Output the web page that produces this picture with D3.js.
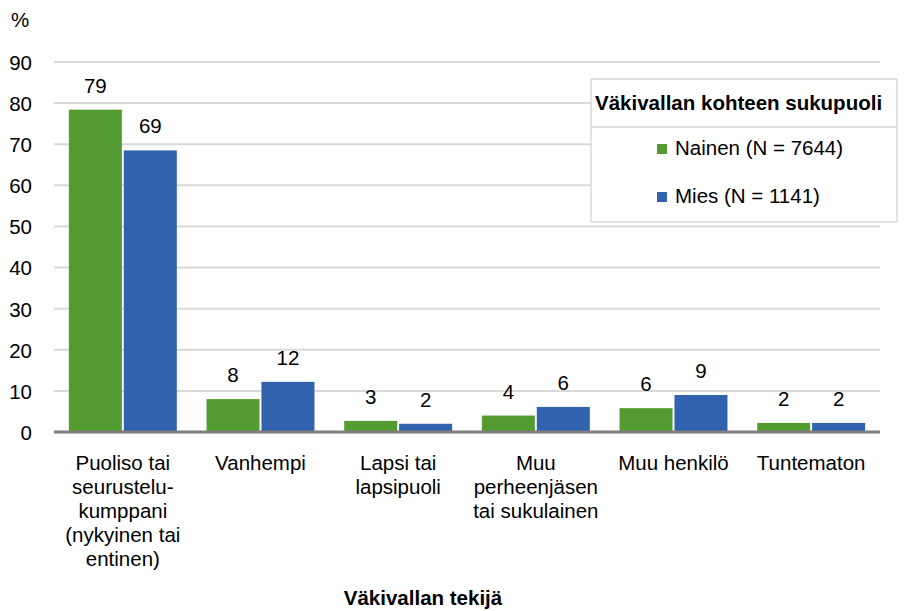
<!DOCTYPE html>
<html>
<head>
<meta charset="utf-8">
<script src="https://cdn.jsdelivr.net/npm/d3@7"></script>
<style>
  body { margin: 0; background: #fff; }
  text { font-family: "Liberation Sans", Arial, sans-serif; fill: #000; }
</style>
</head>
<body>
<div id="chart"></div>
<script>
const categories = [
  ['Puoliso tai', 'seurustelu-', 'kumppani', '(nykyinen tai', 'entinen)'],
  ['Vanhempi'],
  ['Lapsi tai', 'lapsipuoli'],
  ['Muu', 'perheenjäsen', 'tai sukulainen'],
  ['Muu henkilö'],
  ['Tuntematon']
];
const seriesNames = ['Nainen (N = 7644)', 'Mies (N = 1141)'];
const nainenValues = [78.4, 8.0, 2.7, 4.0, 5.8, 2.2];
const miesValues = [68.5, 12.2, 2.0, 6.1, 9.0, 2.2];
const nainenLabels = [79, 8, 3, 4, 6, 2];
const miesLabels = [69, 12, 2, 6, 9, 2];
const yTicks = [0, 10, 20, 30, 40, 50, 60, 70, 80, 90];

const colors = ['#549b31', '#3062ae'];
const W = 907, H = 611;
const margin = {top: 62, right: 27, bottom: 179, left: 54};
const width = W - margin.left - margin.right, height = H - margin.top - margin.bottom;
const fs = '20.5px';

const svg = d3.select('#chart').append('svg')
  .attr('width', W).attr('height', H);
const g = svg.append('g').attr('transform', `translate(${margin.left},${margin.top})`);

const x = d3.scaleBand().domain(d3.range(categories.length)).range([0, width])
  .paddingInner(0.216).paddingOuter(0.108);
const xs = d3.scaleBand().domain([0, 1]).range([0, x.bandwidth()]).paddingInner(0.035);
const y = d3.scaleLinear().domain([0, 90]).range([height, 0]);

// grid
g.selectAll('.grid').data(yTicks.slice(1)).join('line')
  .attr('x1', 0).attr('x2', width)
  .attr('y1', d => y(d)).attr('y2', d => y(d))
  .attr('stroke', '#d9d9d9').attr('stroke-width', 2);

// y axis labels
const yAxis = g.append('g').call(d3.axisLeft(y).tickValues(yTicks).tickSize(0).tickPadding(22));
yAxis.select('.domain').remove();
yAxis.selectAll('text').style('font-size', fs).style('font-family', '"Liberation Sans", Arial, sans-serif')
  .attr('dy', '0.36em');

svg.append('text').attr('x', 11).attr('y', 27).style('font-size', fs).text('%');

const series = [nainenValues, miesValues];
const labels = [nainenLabels, miesLabels];
series.forEach((vals, s) => {
  g.selectAll('.bar' + s).data(vals).join('rect')
    .attr('x', (d, i) => x(i) + xs(s))
    .attr('width', xs.bandwidth())
    .attr('y', d => y(d))
    .attr('height', d => y(0) - y(d))
    .attr('fill', colors[s]);
  g.selectAll('.lab' + s).data(vals).join('text')
    .attr('x', (d, i) => x(i) + xs(s) + xs.bandwidth() / 2)
    .attr('y', d => y(d) - 17)
    .attr('text-anchor', 'middle')
    .style('font-size', fs)
    .text((d, i) => labels[s][i]);
});

// baseline
g.append('line').attr('x1', 0).attr('x2', width).attr('y1', y(0)).attr('y2', y(0))
  .attr('stroke', '#7f7f7f').attr('stroke-width', 3);

// category labels
categories.forEach((lines, i) => {
  const t = g.append('text')
    .attr('x', x(i) + x.bandwidth() / 2)
    .attr('y', height + 38)
    .attr('text-anchor', 'middle')
    .style('font-size', fs);
  lines.forEach((ln, k) => t.append('tspan')
    .attr('x', x(i) + x.bandwidth() / 2)
    .attr('dy', k === 0 ? 0 : 24).text(ln));
});

svg.append('text').attr('x', 423).attr('y', 605).attr('text-anchor', 'middle')
  .style('font-size', '20.5px').style('font-weight', 'bold').text('Väkivallan tekijä');

// legend
const lg = svg.append('g').attr('transform', 'translate(591,79)');
lg.append('rect').attr('width', 306).attr('height', 143)
  .attr('fill', '#fff').attr('stroke', '#d9d9d9').attr('stroke-width', 1.5);
lg.append('line').attr('x1', 0).attr('x2', 306).attr('y1', 48).attr('y2', 48)
  .attr('stroke', '#d9d9d9').attr('stroke-width', 1.5);
lg.append('text').attr('x', 4).attr('y', 31).style('font-size', '20.5px')
  .style('font-weight', 'bold').text('Väkivallan kohteen sukupuoli');
seriesNames.forEach((n, i) => {
  lg.append('rect').attr('x', 66).attr('y', 65 + i * 48).attr('width', 10).attr('height', 10)
    .attr('fill', colors[i]);
  lg.append('text').attr('x', 84).attr('y', 76 + i * 48).style('font-size', fs).text(n);
});
</script>
</body>
</html>
